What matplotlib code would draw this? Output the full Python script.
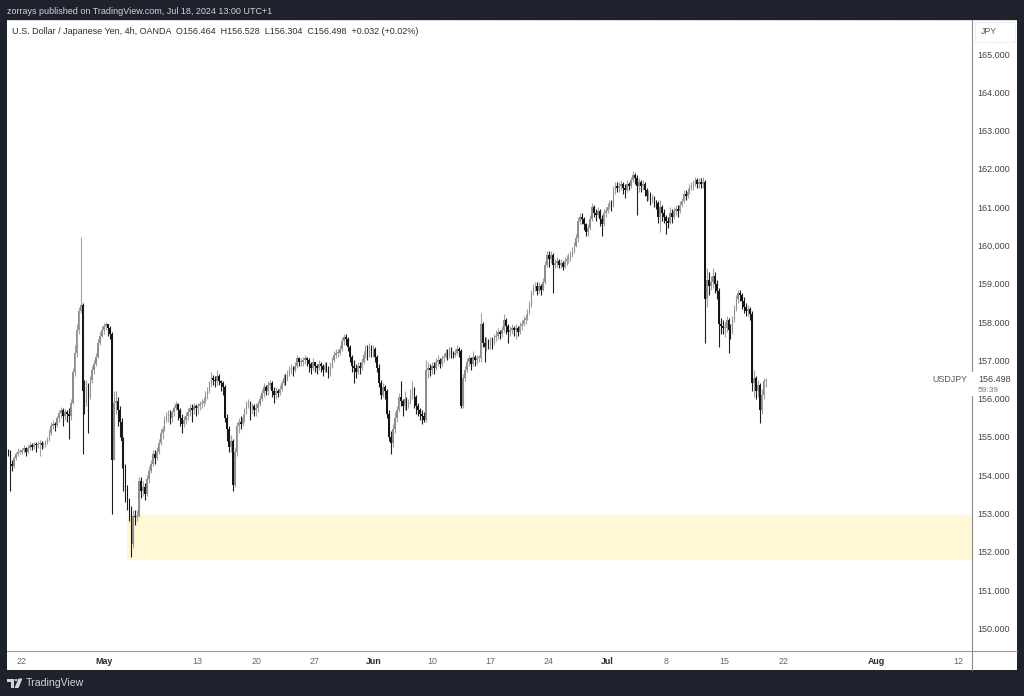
import numpy as np
import pandas as pd
import matplotlib
matplotlib.use("Agg")
import matplotlib.pyplot as plt
from matplotlib.patches import Rectangle, Polygon, Circle
from matplotlib.lines import Line2D

plt.rcParams['font.family'] = ['Liberation Sans', 'DejaVu Sans']

# ---------------- data (USDJPY, 4h bars, OANDA) ----------------
first_open = 154.62          # open of the first bar (Apr 18, last 4h bar)
first_bar_date = "2024-04-18"
first_bar_slot = 5           # slot (0..5) of the first bar inside its day

close_apr = [
    154.60,
    154.30, 154.25, 154.45, 154.55, 154.60, 154.62,   # Apr 19
    154.65, 154.70, 154.62, 154.72, 154.80, 154.75,   # Apr 22
    154.80, 154.78, 154.82, 154.85, 154.80, 154.82,   # Apr 23
    154.88, 154.95, 155.10, 155.30, 155.35, 155.32,   # Apr 24
    155.50, 155.62, 155.70, 155.55, 155.65, 155.60,   # Apr 25
    155.55, 155.90, 156.70, 157.20, 157.80, 158.30,   # Apr 26
    158.45, 156.20, 155.90, 156.30, 156.05, 156.50,   # Apr 29
    156.75, 156.90, 157.10, 157.45, 157.65, 157.80,   # Apr 30
]
high_apr = [
    154.68,
    154.65, 154.40, 154.50, 154.62, 154.70, 154.68,
    154.70, 154.78, 154.75, 154.80, 154.88, 154.85,
    154.88, 154.88, 154.90, 154.92, 154.90, 154.88,
    154.92, 155.00, 155.20, 155.40, 155.45, 155.40,
    155.55, 155.70, 155.78, 155.75, 155.72, 155.70,
    155.75, 156.00, 156.80, 157.40, 157.95, 158.40,
    160.22, 158.50, 156.50, 156.50, 156.40, 156.60,
    156.85, 157.00, 157.20, 157.55, 157.75, 157.90,
]
low_apr = [
    154.50,
    153.60, 154.10, 154.20, 154.40, 154.50, 154.55,
    154.55, 154.58, 154.50, 154.58, 154.65, 154.65,
    154.68, 154.60, 154.70, 154.50, 154.68, 154.72,
    154.75, 154.82, 154.90, 155.05, 155.20, 155.15,
    155.25, 155.40, 155.50, 155.30, 155.45, 155.40,
    154.95, 155.45, 155.85, 156.60, 157.10, 157.70,
    158.25, 154.55, 155.60, 155.80, 155.10, 156.00,
    156.40, 156.65, 156.85, 157.05, 157.40, 157.60,
]

close_may = [
    157.90, 157.95, 157.85, 157.70, 154.40, 155.90,   # May 1
    155.95, 155.70, 155.40, 154.90, 154.20, 153.70,   # May 2
    153.30, 153.05, 152.20, 152.95, 152.90, 152.95,   # May 3
    153.85, 153.60, 153.70, 153.50, 153.90, 154.10,   # May 6
    154.30, 154.55, 154.45, 154.60, 154.85, 155.10,   # May 7
    155.20, 155.45, 155.55, 155.60, 155.50, 155.65,   # May 8
    155.75, 155.85, 155.70, 155.50, 155.35, 155.45,   # May 9
    155.55, 155.65, 155.75, 155.70, 155.80, 155.75,   # May 10
    155.80, 155.85, 155.90, 155.95, 156.10, 156.20,   # May 13
    156.40, 156.55, 156.50, 156.45, 156.60, 156.45,   # May 14
    156.40, 156.30, 155.50, 155.20, 154.75, 154.90,   # May 15
    153.75, 154.60, 155.30, 155.40, 155.35, 155.50,   # May 16
    155.70, 155.85, 155.90, 155.75, 155.80, 155.70,   # May 17
    155.75, 155.85, 156.00, 156.15, 156.30, 156.20,   # May 20
    156.35, 156.40, 156.20, 156.10, 156.20, 156.15,   # May 21
    156.25, 156.40, 156.55, 156.50, 156.65, 156.75,   # May 22
    156.80, 156.75, 156.85, 157.05, 156.95, 156.95,   # May 23
    157.00, 157.05, 157.00, 156.90, 156.80, 156.95,   # May 24
    156.85, 156.80, 156.90, 156.85, 156.75, 156.85,   # May 27
    156.80, 156.65, 156.85, 157.00, 157.15, 157.20,   # May 28
    157.20, 157.30, 157.50, 157.60, 157.55, 157.35,   # May 29
    157.10, 156.85, 156.80, 156.70, 156.85, 156.80,   # May 30
    156.95, 157.15, 157.30, 157.20, 157.35, 157.25,   # May 31
]
high_may = [
    157.98, 158.00, 157.95, 157.90, 157.75, 156.20,
    156.20, 156.05, 155.80, 155.50, 155.00, 154.30,
    153.75, 153.40, 153.20, 153.10, 153.10, 153.10,
    153.95, 153.95, 153.85, 153.80, 154.00, 154.25,
    154.40, 154.65, 154.65, 154.75, 154.95, 155.20,
    155.30, 155.55, 155.65, 155.70, 155.70, 155.70,
    155.80, 155.95, 155.90, 155.75, 155.60, 155.55,
    155.65, 155.75, 155.85, 155.85, 155.90, 155.85,
    155.90, 155.95, 156.00, 156.05, 156.20, 156.30,
    156.45, 156.70, 156.62, 156.60, 156.75, 156.65,
    156.50, 156.45, 156.35, 155.60, 155.30, 155.05,
    154.95, 154.70, 155.40, 155.50, 155.55, 155.60,
    155.75, 155.95, 156.00, 155.95, 155.90, 155.85,
    155.90, 155.95, 156.10, 156.25, 156.40, 156.35,
    156.45, 156.50, 156.45, 156.30, 156.30, 156.25,
    156.35, 156.50, 156.65, 156.65, 156.75, 156.85,
    156.90, 156.85, 156.95, 157.15, 157.10, 157.05,
    157.10, 157.15, 157.10, 157.05, 156.95, 157.05,
    156.95, 156.90, 157.00, 156.95, 156.90, 156.95,
    156.95, 156.85, 156.95, 157.10, 157.25, 157.30,
    157.30, 157.40, 157.60, 157.70, 157.70, 157.60,
    157.40, 157.15, 157.00, 156.90, 156.95, 156.95,
    157.05, 157.25, 157.40, 157.40, 157.45, 157.40,
]
low_may = [
    157.70, 157.80, 157.65, 157.55, 153.00, 154.40,
    155.60, 155.30, 155.00, 154.20, 153.60, 153.30,
    153.10, 152.80, 151.86, 152.10, 152.70, 152.80,
    152.90, 153.40, 153.45, 153.35, 153.45, 153.80,
    154.05, 154.25, 154.30, 154.40, 154.55, 154.80,
    154.95, 155.15, 155.40, 155.40, 155.35, 155.40,
    155.55, 155.70, 155.45, 155.30, 155.10, 155.25,
    155.35, 155.45, 155.55, 155.40, 155.60, 155.55,
    155.60, 155.70, 155.75, 155.80, 155.90, 156.00,
    156.15, 156.30, 156.35, 156.30, 156.35, 156.35,
    156.20, 156.10, 155.40, 154.90, 154.60, 154.60,
    153.60, 153.70, 154.50, 155.10, 155.20, 155.30,
    155.40, 155.60, 155.75, 155.45, 155.60, 155.55,
    155.55, 155.65, 155.80, 155.95, 156.05, 156.10,
    156.10, 156.25, 156.05, 155.90, 156.00, 156.05,
    156.10, 156.20, 156.35, 156.35, 156.45, 156.60,
    156.65, 156.60, 156.70, 156.80, 156.85, 156.85,
    156.85, 156.90, 156.85, 156.70, 156.65, 156.75,
    156.70, 156.65, 156.75, 156.70, 156.60, 156.70,
    156.70, 156.55, 156.60, 156.80, 156.95, 157.05,
    157.10, 157.15, 157.25, 157.40, 157.40, 157.25,
    156.95, 156.70, 156.40, 156.55, 156.65, 156.65,
    156.75, 156.90, 157.05, 157.00, 157.10, 157.10,
]

close_jun = [
    157.30, 157.10, 156.80, 156.40, 156.10, 156.30,   # Jun 3
    156.20, 155.60, 155.00, 154.85, 155.20, 155.50,   # Jun 4
    155.70, 156.05, 155.95, 155.80, 156.00, 155.85,   # Jun 5
    155.90, 156.10, 156.25, 156.05, 155.80, 155.70,   # Jun 6
    155.60, 155.55, 155.45, 156.75, 156.80, 156.75,   # Jun 7
    156.85, 156.80, 156.95, 157.00, 156.90, 157.05,   # Jun 10
    157.10, 157.20, 157.15, 157.25, 157.20, 157.15,   # Jun 11
    157.20, 157.30, 157.25, 155.80, 156.55, 156.75,   # Jun 12
    156.95, 157.05, 156.90, 157.10, 157.00, 157.05,   # Jun 13
    157.05, 157.95, 157.45, 157.35, 157.50, 157.40,   # Jun 14
    157.50, 157.45, 157.60, 157.65, 157.75, 157.70,   # Jun 17
    157.80, 158.05, 157.90, 157.75, 157.80, 157.85,   # Jun 18
    157.80, 157.85, 157.75, 157.90, 157.95, 158.05,   # Jun 19
    158.10, 158.25, 158.45, 158.75, 158.90, 158.95,   # Jun 20
    158.80, 158.95, 158.85, 159.05, 159.50, 159.75,   # Jun 21
    159.65, 159.75, 159.50, 159.55, 159.60, 159.50,   # Jun 24
    159.55, 159.45, 159.60, 159.65, 159.70, 159.75,   # Jun 25
    159.85, 160.00, 160.20, 160.65, 160.75, 160.70,   # Jun 26
    160.55, 160.35, 160.45, 160.70, 161.00, 160.85,   # Jun 27
    160.80, 160.90, 160.70, 160.55, 160.85, 160.90,   # Jun 28
]
high_jun = [
    157.40, 157.35, 157.15, 156.90, 156.50, 156.40,
    156.35, 156.25, 155.70, 155.15, 155.35, 155.65,
    155.80, 156.15, 156.45, 156.00, 156.20, 156.05,
    156.00, 156.25, 156.45, 156.30, 156.10, 155.90,
    155.75, 155.70, 155.65, 157.00, 156.95, 156.90,
    156.95, 156.95, 157.05, 157.15, 157.05, 157.15,
    157.20, 157.30, 157.30, 157.35, 157.35, 157.25,
    157.30, 157.40, 157.35, 157.30, 156.65, 156.85,
    157.05, 157.15, 157.10, 157.25, 157.15, 157.15,
    157.15, 158.25, 158.00, 157.60, 157.60, 157.55,
    157.60, 157.60, 157.70, 157.80, 157.85, 157.80,
    157.90, 158.20, 158.10, 157.95, 157.90, 157.95,
    157.90, 157.95, 157.90, 158.00, 158.05, 158.15,
    158.20, 158.35, 158.55, 158.85, 159.00, 159.05,
    159.05, 159.05, 159.00, 159.15, 159.60, 159.85,
    159.85, 159.85, 159.80, 159.65, 159.70, 159.65,
    159.65, 159.60, 159.70, 159.75, 159.80, 159.85,
    159.95, 160.10, 160.30, 160.75, 160.85, 160.85,
    160.75, 160.60, 160.55, 160.80, 161.10, 161.05,
    160.95, 161.00, 160.95, 160.80, 160.95, 161.00,
]
low_jun = [
    157.10, 156.95, 156.70, 156.30, 156.00, 156.05,
    156.00, 155.50, 154.90, 154.55, 154.75, 155.10,
    155.40, 155.65, 155.80, 155.55, 155.70, 155.70,
    155.75, 155.85, 156.00, 155.75, 155.60, 155.55,
    155.45, 155.35, 155.40, 155.40, 156.55, 156.60,
    156.65, 156.65, 156.75, 156.85, 156.80, 156.85,
    156.95, 157.05, 157.00, 157.05, 157.05, 157.05,
    157.10, 157.15, 157.10, 155.75, 155.75, 156.45,
    156.70, 156.85, 156.75, 156.85, 156.85, 156.90,
    156.95, 156.95, 157.35, 156.95, 157.25, 157.30,
    157.30, 157.30, 157.40, 157.50, 157.55, 157.55,
    157.60, 157.75, 157.70, 157.45, 157.65, 157.70,
    157.65, 157.55, 157.65, 157.70, 157.80, 157.90,
    157.95, 158.05, 158.20, 158.40, 158.70, 158.80,
    158.70, 158.75, 158.70, 158.80, 159.00, 159.45,
    159.45, 159.55, 158.75, 159.40, 159.45, 159.40,
    159.40, 159.35, 159.40, 159.50, 159.55, 159.60,
    159.70, 159.80, 159.95, 160.10, 160.55, 160.55,
    160.40, 160.25, 160.25, 160.40, 160.65, 160.75,
    160.65, 160.75, 160.50, 160.25, 160.50, 160.75,
]

close_jul = [
    161.00, 161.10, 161.05, 161.45, 161.55, 161.50,   # Jul 1
    161.55, 161.60, 161.50, 161.45, 161.60, 161.55,   # Jul 2
    161.70, 161.85, 161.75, 161.55, 161.65, 161.55,   # Jul 3
    161.60, 161.45, 161.30, 161.35, 161.20, 161.25,   # Jul 4
    161.15, 161.10, 160.75, 161.00, 160.85, 160.75,   # Jul 5
    160.65, 160.60, 160.85, 160.75, 160.90, 160.95,   # Jul 8
    160.90, 161.05, 161.15, 161.35, 161.30, 161.40,   # Jul 9
    161.50, 161.55, 161.60, 161.70, 161.60, 161.65,   # Jul 10
    161.60, 161.65, 158.60, 159.10, 158.95, 159.05,   # Jul 11
    159.20, 159.00, 158.80, 157.95, 157.90, 157.85,   # Jul 12
    157.85, 158.05, 157.80, 157.75, 158.05, 158.35,   # Jul 15
    158.60, 158.75, 158.70, 158.55, 158.40, 158.30,   # Jul 16
    158.35, 158.20, 156.40, 156.55, 156.20, 156.35,   # Jul 17
    155.70, 156.10, 156.464, 156.498,                 # Jul 18
]
high_jul = [
    161.10, 161.20, 161.20, 161.55, 161.65, 161.65,
    161.65, 161.70, 161.65, 161.60, 161.70, 161.65,
    161.80, 161.95, 161.90, 161.85, 161.75, 161.70,
    161.70, 161.65, 161.50, 161.45, 161.40, 161.35,
    161.30, 161.20, 161.15, 161.20, 161.05, 160.95,
    160.80, 160.75, 161.00, 160.95, 161.00, 161.05,
    161.05, 161.15, 161.25, 161.45, 161.45, 161.50,
    161.60, 161.65, 161.70, 161.80, 161.75, 161.75,
    161.75, 161.80, 161.70, 159.40, 159.30, 159.20,
    159.40, 159.30, 159.10, 158.90, 158.10, 158.05,
    158.00, 158.15, 158.10, 157.95, 158.15, 158.45,
    158.70, 158.85, 158.85, 158.75, 158.65, 158.50,
    158.45, 158.40, 158.30, 156.75, 156.60, 156.50,
    156.40, 156.25, 156.55, 156.528,
]
low_jul = [
    160.85, 160.95, 160.90, 161.00, 161.35, 161.40,
    161.40, 161.45, 161.35, 161.25, 161.40, 161.45,
    161.50, 161.65, 161.60, 160.80, 161.40, 161.40,
    161.45, 161.30, 161.15, 161.20, 161.05, 161.10,
    161.00, 160.95, 160.60, 160.35, 160.65, 160.60,
    160.30, 160.45, 160.55, 160.60, 160.70, 160.80,
    160.75, 160.85, 161.00, 161.10, 161.20, 161.25,
    161.35, 161.45, 161.45, 161.55, 161.50, 161.50,
    161.50, 161.50, 157.45, 158.40, 158.70, 158.85,
    158.90, 158.75, 158.60, 157.35, 157.70, 157.70,
    157.60, 157.75, 157.20, 157.55, 157.70, 158.00,
    158.30, 158.50, 158.55, 158.35, 158.25, 158.15,
    158.15, 158.05, 156.20, 156.05, 156.00, 156.05,
    155.37, 155.60, 156.00, 156.304,
]

tick_dates = ["2024-04-22", "2024-05-01", "2024-05-13", "2024-05-20", "2024-05-27",
              "2024-06-03", "2024-06-10", "2024-06-17", "2024-06-24", "2024-07-01",
              "2024-07-08", "2024-07-15", "2024-07-22", "2024-08-01", "2024-08-12"]
tick_labels = ["22", "May", "13", "20", "27", "Jun", "10", "17", "24", "Jul",
               "8", "15", "22", "Aug", "12"]
month_labels = {"May", "Jun", "Jul", "Aug"}

price_ticks = [150, 151, 152, 153, 154, 155, 156, 157, 158, 159, 160, 161, 162, 163, 164, 165]

zone_top = 152.96
zone_bottom = 151.79
zone_start_date = "2024-05-03"

title_text = "U.S. Dollar / Japanese Yen, 4h, OANDA  O156.464  H156.528  L156.304  C156.498  +0.032 (+0.02%)"
header_text = "zorrays published on TradingView.com, Jul 18, 2024 13:00 UTC+1"
last_price = 156.498
countdown = "59:39"
symbol = "USDJPY"

# ---------------- build series ----------------
closes = np.array(close_apr + close_may + close_jun + close_jul)
highs = np.array(high_apr + high_may + high_jun + high_jul)
lows = np.array(low_apr + low_may + low_jun + low_jul)
opens = np.concatenate([[first_open], closes[:-1]])

BARS_PER_DAY = 6
bdays = pd.bdate_range("2024-04-15", "2024-09-30")
origin = bdays.get_loc(pd.Timestamp("2024-04-22"))


def day_bar(date):
    return (bdays.get_loc(pd.Timestamp(date)) - origin) * BARS_PER_DAY


start_bar = day_bar(first_bar_date) + first_bar_slot
xs = np.arange(start_bar, start_bar + len(closes))

# ---------------- figure ----------------
W, H = 1024, 696
fig = plt.figure(figsize=(W / 100, H / 100), dpi=100)
BG = "#1e222d"
fig.patch.set_facecolor(BG)


def fx(px):
    return px / W


def fy(py):
    return 1 - py / H


# white panel
fig.add_artist(Rectangle((fx(7), fy(670)), (1016.5 - 7) / W, (670 - 20) / H,
                         transform=fig.transFigure, facecolor="white",
                         edgecolor="none", zorder=0))

PLOT_L, PLOT_R, PLOT_T, PLOT_B = 7, 971.7, 20, 651
ax = fig.add_axes([fx(PLOT_L), fy(PLOT_B), (PLOT_R - PLOT_L) / W, (PLOT_B - PLOT_T) / H])
ax.set_facecolor("white")

px_per_bar = 11.71 / 6
x0_px = 22.0
ax.set_xlim((PLOT_L - x0_px) / px_per_bar, (PLOT_R - x0_px) / px_per_bar)
px_per_yen = 38.3
ax.set_ylim(165 - (PLOT_B - 54) / px_per_yen, 165 + (54 - PLOT_T) / px_per_yen)

for s in ax.spines.values():
    s.set_visible(False)

# zone
zx0 = day_bar(zone_start_date) - 0.4
ax.add_patch(Rectangle((zx0, zone_bottom), 2000, zone_top - zone_bottom,
                       facecolor="#fff7d6", edgecolor="none", zorder=1))

# candles
up = closes >= opens
body_col = np.where(up, "#8e8e8e", "#141414")
wick_col = np.where(up, "#a2a2a2", "#1e1e1e")
ax.vlines(xs, lows, highs, colors=wick_col, linewidth=0.8, zorder=2)
bottoms = np.minimum(opens, closes)
heights = np.maximum(np.abs(closes - opens), 0.03)
ax.bar(xs, heights, bottom=bottoms, width=0.8, color=body_col, linewidth=0, zorder=3)

# y axis (right)
ax.yaxis.tick_right()
ax.set_yticks(price_ticks)
ax.set_yticklabels([f"{v:.3f}" for v in price_ticks])
ax.tick_params(axis="y", length=0, pad=4.4, labelsize=6.5, labelcolor="#444444")

# x axis
tpos = [day_bar(d) for d in tick_dates]
ax.set_xticks(tpos)
ax.set_xticklabels(tick_labels)
ax.tick_params(axis="x", length=0, pad=4.0, labelsize=6.4, labelcolor="#666666")
for lab in ax.get_xticklabels():
    if lab.get_text() in month_labels:
        lab.set_fontweight("bold")
        lab.set_color("#2a2a2a")

# separators
fig.add_artist(Line2D([fx(PLOT_R), fx(PLOT_R)], [fy(20), fy(670)], transform=fig.transFigure,
                      color="#8c8c8c", linewidth=0.8, zorder=5))
fig.add_artist(Line2D([fx(7), fx(1016.5)], [fy(PLOT_B), fy(PLOT_B)], transform=fig.transFigure,
                      color="#9a9a9a", linewidth=0.8, zorder=5))
fig.add_artist(Line2D([fx(7), fx(1016.5)], [fy(20.3), fy(20.3)], transform=fig.transFigure,
                      color="#b0b0b0", linewidth=0.6, linestyle=(0, (1, 1)), zorder=5))

# last price label box
fig.add_artist(Rectangle((fx(935), fy(396)), (1015 - 935) / W, (396 - 372) / H,
                         transform=fig.transFigure, facecolor="white", edgecolor="none", zorder=6))
ly = fy(54 + (165 - last_price) * px_per_yen)
fig.text(fx(967), ly, symbol, ha="right", va="center", fontsize=6.4, color="#555555", zorder=7)
fig.text(fx(978), ly, f"{last_price:.3f}", ha="left", va="center", fontsize=6.5, color="#444444", zorder=7)
fig.text(fx(978), fy(390.5), countdown, ha="left", va="center", fontsize=6.0, color="#777777", zorder=7)

# JPY box
fig.add_artist(Rectangle((fx(974.5), fy(42)), (1015 - 974.5) / W, 20 / H, transform=fig.transFigure,
                         facecolor="white", edgecolor="#d8d8d8", linewidth=0.6,
                         linestyle=(0, (1, 1)), zorder=6))
fig.text(fx(981), fy(32), "JPY", ha="left", va="center", fontsize=6.2, color="#555555", zorder=7)

# header & legend
fig.text(fx(7), fy(11.5), header_text, ha="left", va="center", fontsize=6.5, color="#d1d4dc")
fig.text(fx(12.5), fy(31), title_text, ha="left", va="center", fontsize=6.45, color="#2e2e2e")

# TradingView logo
logo_col = "#d1d4dc"
fig.add_artist(Polygon([[fx(7), fy(678.5)], [fx(13.5), fy(678.5)], [fx(13.5), fy(688)],
                        [fx(10.5), fy(688)], [fx(10.5), fy(681.5)], [fx(7), fy(681.5)]],
                       closed=True, transform=fig.transFigure, facecolor=logo_col, edgecolor="none"))
fig.add_artist(Circle((fx(16), fy(680)), 1.5 / W, transform=fig.transFigure,
                      facecolor=logo_col, edgecolor="none"))
fig.add_artist(Polygon([[fx(18.5), fy(678.5)], [fx(22.5), fy(678.5)], [fx(18.5), fy(688)],
                        [fx(14.5), fy(688)]],
                       closed=True, transform=fig.transFigure, facecolor=logo_col, edgecolor="none"))
fig.text(fx(26), fy(683.5), "TradingView", ha="left", va="center", fontsize=7.6, color=logo_col)

fig.savefig("out.png", dpi=100, facecolor=BG)
